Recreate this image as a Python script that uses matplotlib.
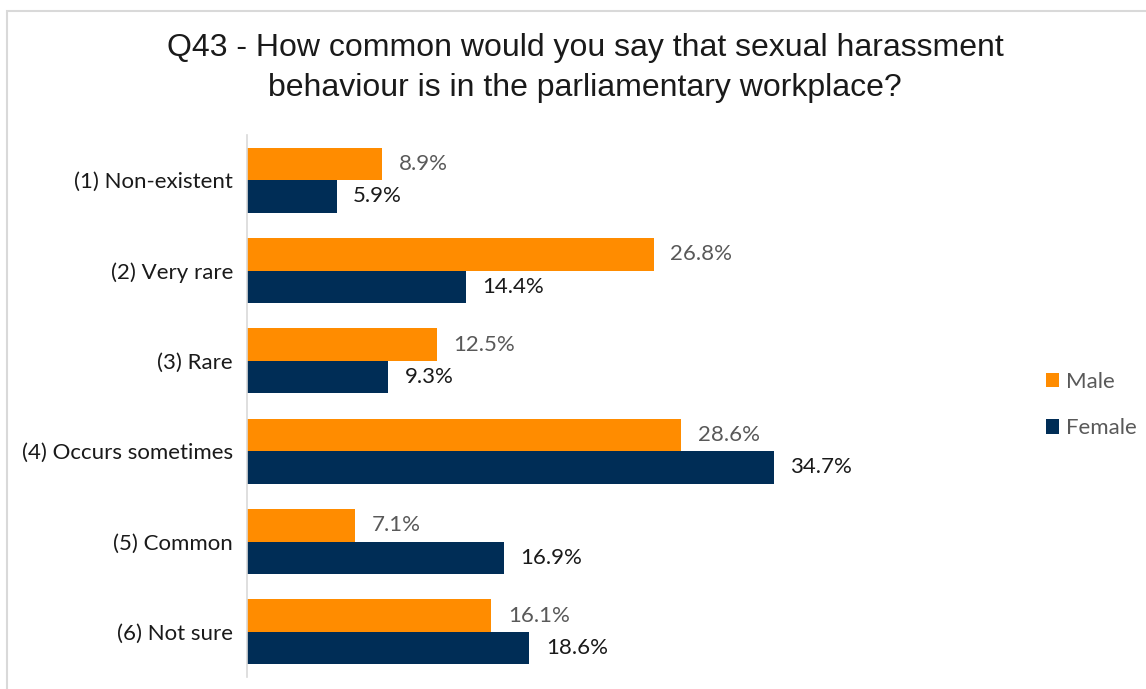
import numpy as np
import matplotlib.pyplot as plt
from matplotlib.patches import Rectangle

# data
categories = ["(1) Non-existent", "(2) Very rare", "(3) Rare",
              "(4) Occurs sometimes", "(5) Common", "(6) Not sure"]
male = [8.9, 26.8, 12.5, 28.6, 7.1, 16.1]
female = [5.9, 14.4, 9.3, 34.7, 16.9, 18.6]

title = ("Q43 - How common would you say that sexual harassment\n"
         "behaviour is in the parliamentary workplace?")

orange = "#FF8C00"
navy = "#002D56"
label_font = "Lato"
fs = 16

fig = plt.figure(figsize=(11.46, 6.89), dpi=100)
ax = fig.add_axes([247 / 1146, 12 / 689, 759 / 1146, 542 / 689])

y = np.arange(len(categories))
h = 0.36
b1 = ax.barh(y - h / 2, male, height=h, color=orange, label="Male")
b2 = ax.barh(y + h / 2, female, height=h, color=navy, label="Female")

for bar, v in zip(b1, male):
    ax.annotate(f"{v:.1f}%", (bar.get_width(), bar.get_y() + bar.get_height() / 2),
                xytext=(12, 0), textcoords="offset points", va="center", ha="left",
                fontsize=fs, color="#595959", family=label_font)
for bar, v in zip(b2, female):
    ax.annotate(f"{v:.1f}%", (bar.get_width(), bar.get_y() + bar.get_height() / 2),
                xytext=(12, 0), textcoords="offset points", va="center", ha="left",
                fontsize=fs, color="#1a1a1a", family=label_font)

ax.set_ylim(len(categories) - 0.5, -0.5)
ax.set_xlim(0, 50)
ax.set_yticks(y)
ax.set_yticklabels(categories, fontsize=fs, family=label_font, color="#1a1a1a")
ax.tick_params(axis="y", length=0, pad=10)
ax.set_xticks([])
for s in ["top", "right", "bottom"]:
    ax.spines[s].set_visible(False)
ax.spines["left"].set_color("#d9d9d9")
ax.spines["left"].set_linewidth(1.2)

leg = fig.legend(handles=[b1, b2], loc="center left",
                 bbox_to_anchor=(1030 / 1146, 1 - 405 / 689), frameon=False,
                 prop={"family": label_font, "size": fs},
                 handlelength=0.6, handleheight=0.6, handletextpad=0.3,
                 labelspacing=1.2, borderpad=0.2)
for t in leg.get_texts():
    t.set_color("#595959")

fig.text(585 / 1146, 1 - 68 / 689, title, ha="center", va="center",
         fontsize=23, family="Liberation Sans", color="#1a1a1a", linespacing=1.4)

# light grey frame around the chart area
fig.patches.append(Rectangle((7 / 1146, -0.05), 1.1, 1 - 11 / 689 + 0.05,
                             transform=fig.transFigure, fill=False,
                             edgecolor="#d9d9d9", linewidth=1.5))

plt.savefig("out.png", dpi=100)
